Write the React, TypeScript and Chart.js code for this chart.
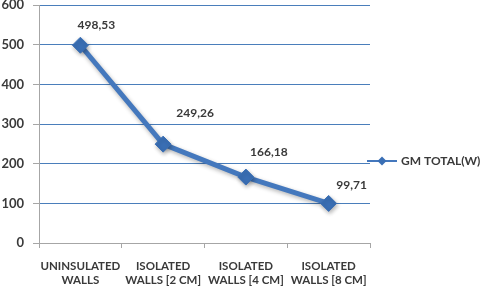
import { useEffect, useRef } from "react";
import { Chart, registerables } from "chart.js";

Chart.register(...registerables);

const categories: string[][] = [
  ["UNINSULATED", "WALLS"],
  ["ISOLATED", "WALLS [2 CM]"],
  ["ISOLATED", "WALLS [4 CM]"],
  ["ISOLATED", "WALLS [8 CM]"],
];
const seriesName = "GM TOTAL(W)";
const gmTotal = [498.53, 249.26, 166.18, 99.71];
const valueLabels = ["498,53", "249,26", "166,18", "99,71"];
const yMin = 0;
const yMax = 600;
const yStep = 100;

const FONT = "Lato, 'Open Sans', sans-serif";
const LINE_COLOR = "#4478bd";
const MARKER_COLOR = "#3a6fb5";
const GRID_COLOR = "#4a7ebb";
const AXIS_COLOR = "#a6a6a6";
const TEXT_COLOR = "#3a3a3a";
const LABEL_OFFSETS: [number, number][] = [
  [16, -20],
  [32, -31],
  [23, -25],
  [23, -18],
];

const overlayPlugin = {
  id: "overlay",
  beforeDatasetDraw(chart: any) {
    const ctx = chart.ctx;
    ctx.save();
    ctx.shadowColor = "rgba(0,0,0,0.3)";
    ctx.shadowBlur = 4;
    ctx.shadowOffsetX = 1;
    ctx.shadowOffsetY = 2;
  },
  afterDatasetDraw(chart: any) {
    chart.ctx.restore();
  },
  afterDatasetsDraw(chart: any) {
    const ctx = chart.ctx;
    const meta = chart.getDatasetMeta(0);
    ctx.save();
    ctx.font = `bold 12px ${FONT}`;
    ctx.fillStyle = TEXT_COLOR;
    ctx.textAlign = "center";
    ctx.textBaseline = "middle";
    meta.data.forEach((pt: any, i: number) => {
      const [dx, dy] = LABEL_OFFSETS[i];
      ctx.fillText(valueLabels[i], pt.x + dx, pt.y + dy);
    });
    ctx.restore();
  },
  afterDraw(chart: any) {
    const ctx = chart.ctx;
    const area = chart.chartArea;
    const x0 = area.right - 3;
    const y = 161;
    ctx.save();
    ctx.strokeStyle = LINE_COLOR;
    ctx.lineWidth = 2;
    ctx.beginPath();
    ctx.moveTo(x0, y);
    ctx.lineTo(x0 + 30, y);
    ctx.stroke();
    ctx.fillStyle = MARKER_COLOR;
    const cx = x0 + 15;
    const r = 4.5;
    ctx.beginPath();
    ctx.moveTo(cx, y - r);
    ctx.lineTo(cx + r, y);
    ctx.lineTo(cx, y + r);
    ctx.lineTo(cx - r, y);
    ctx.closePath();
    ctx.fill();
    ctx.font = `bold 12px ${FONT}`;
    ctx.fillStyle = TEXT_COLOR;
    ctx.textAlign = "left";
    ctx.textBaseline = "middle";
    ctx.fillText(seriesName, x0 + 34, y + 0.5);
    ctx.restore();
  },
};

export default function App() {
  const ref = useRef<HTMLCanvasElement>(null);
  useEffect(() => {
    document.body.style.margin = "0";
    const chart = new Chart(ref.current!, {
      type: "line",
      data: {
        labels: categories,
        datasets: [
          {
            label: seriesName,
            data: gmTotal,
            borderColor: LINE_COLOR,
            backgroundColor: MARKER_COLOR,
            borderWidth: 5,
            pointStyle: "rectRot",
            pointRadius: 8,
            pointBackgroundColor: MARKER_COLOR,
            pointBorderColor: MARKER_COLOR,
            pointBorderWidth: 1,
            tension: 0,
          },
        ],
      },
      options: {
        animation: false,
        responsive: false,
        layout: { autoPadding: false, padding: { left: 0, right: 110, top: 5, bottom: 0 } },
        plugins: {
          legend: { display: false },
          tooltip: { enabled: false },
        },
        scales: {
          x: {
            type: "category",
            offset: true,
            grid: {
              offset: true,
              drawOnChartArea: false,
              drawTicks: true,
              tickLength: 5,
              color: AXIS_COLOR,
            },
            border: { display: true, color: AXIS_COLOR, width: 1 },
            ticks: {
              color: TEXT_COLOR,
              font: { family: FONT, size: 11.5, weight: "bold", lineHeight: 1.25 },
              padding: 11,
              maxRotation: 0,
              autoSkip: false,
            },
            afterFit(scale: any) {
              scale.height = 47;
              scale.paddingLeft = 0;
              scale.paddingRight = 0;
            },
          },
          y: {
            min: yMin,
            max: yMax,
            grid: {
              drawTicks: true,
              tickLength: 6,
              tickColor: AXIS_COLOR,
              color: (c: any) => (c.tick && c.tick.value === 0 ? "rgba(0,0,0,0)" : GRID_COLOR),
              lineWidth: 1,
            },
            border: { display: true, color: AXIS_COLOR, width: 1 },
            ticks: {
              stepSize: yStep,
              color: TEXT_COLOR,
              font: { family: FONT, size: 13, weight: "bold", lineHeight: 0.75 },
              padding: 9,
            },
            afterFit(scale: any) {
              scale.width = 39;
              scale.paddingTop = 0;
              scale.paddingBottom = 0;
            },
          },
        },
      },
      plugins: [overlayPlugin],
    } as any);
    return () => chart.destroy();
  }, []);
  return (
    <div style={{ width: 480, height: 290 }}>
      <canvas ref={ref} width={480} height={290} />
    </div>
  );
}
